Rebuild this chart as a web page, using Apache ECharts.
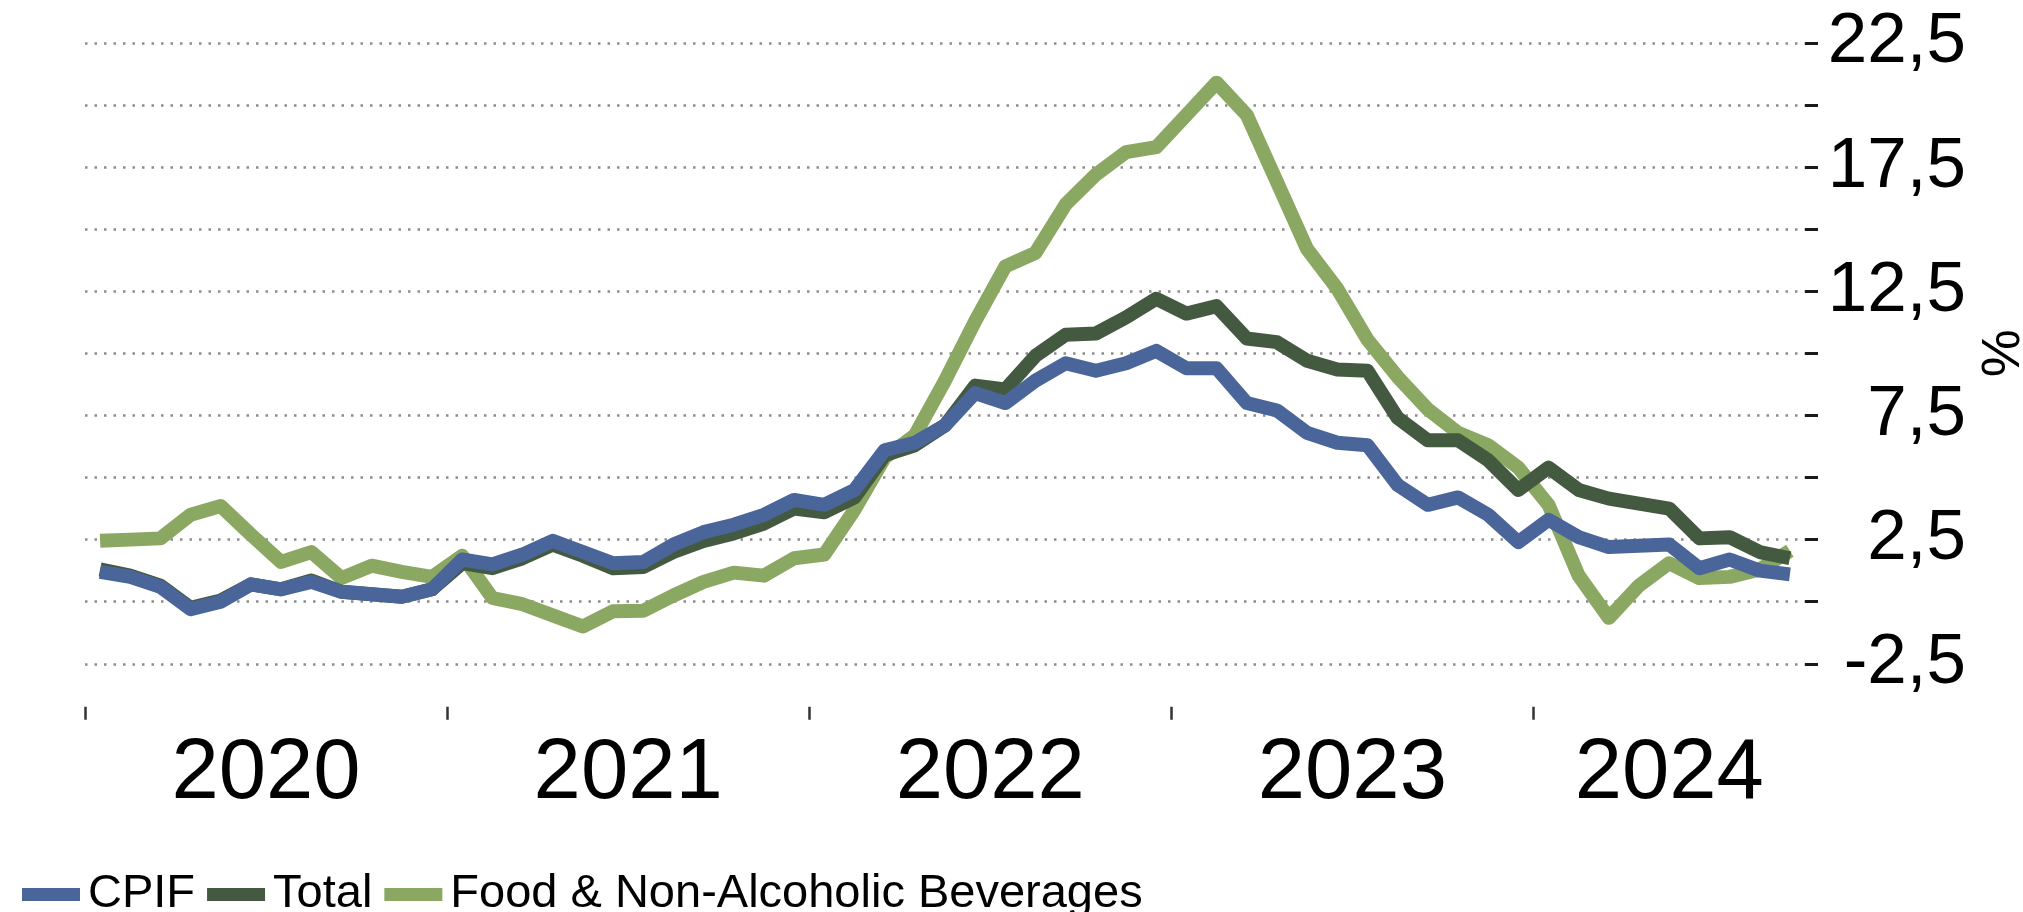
<!DOCTYPE html>
<html>
<head>
<meta charset="utf-8">
<script src="https://cdn.jsdelivr.net/npm/echarts@6/dist/echarts.min.js"></script>
<style>
html,body{margin:0;padding:0;background:#fff;}
#c{width:2023px;height:912px;}
</style>
</head>
<body>
<div id="c"></div>
<script>
const months = [
  '2020-01','2020-02','2020-03','2020-04','2020-05','2020-06','2020-07','2020-08','2020-09','2020-10','2020-11','2020-12',
  '2021-01','2021-02','2021-03','2021-04','2021-05','2021-06','2021-07','2021-08','2021-09','2021-10','2021-11','2021-12',
  '2022-01','2022-02','2022-03','2022-04','2022-05','2022-06','2022-07','2022-08','2022-09','2022-10','2022-11','2022-12',
  '2023-01','2023-02','2023-03','2023-04','2023-05','2023-06','2023-07','2023-08','2023-09','2023-10','2023-11','2023-12',
  '2024-01','2024-02','2024-03','2024-04','2024-05','2024-06','2024-07','2024-08','2024-09'
];
const cpif = [
  1.2, 1.0, 0.6, -0.3, 0.0, 0.7, 0.5, 0.8, 0.4, 0.3, 0.2, 0.5,
  1.7, 1.5, 1.9, 2.45, 2.0, 1.55, 1.6, 2.3, 2.8, 3.1, 3.5, 4.1,
  3.9, 4.5, 6.1, 6.4, 7.1, 8.4, 8.0, 8.9, 9.6, 9.3, 9.6, 10.1,
  9.4, 9.4, 8.0, 7.7, 6.8, 6.4, 6.3, 4.7, 3.9, 4.2, 3.5, 2.4,
  3.3, 2.6, 2.2, 2.25, 2.3, 1.35, 1.7, 1.25, 1.1
];
const total = [
  1.3, 1.05, 0.65, -0.25, 0.05, 0.7, 0.5, 0.85, 0.4, 0.3, 0.2, 0.5,
  1.55, 1.35, 1.75, 2.3, 1.85, 1.35, 1.4, 2.0, 2.45, 2.75, 3.15, 3.75,
  3.6, 4.2, 5.9, 6.3, 7.1, 8.7, 8.55, 9.9, 10.75, 10.8, 11.45, 12.2,
  11.6, 11.9, 10.6, 10.45, 9.7, 9.35, 9.3, 7.4, 6.5, 6.5, 5.7, 4.5,
  5.4, 4.5, 4.15, 3.95, 3.75, 2.55, 2.6, 2.0, 1.75
];
const food = [
  2.45, 2.5, 2.55, 3.5, 3.85, 2.7, 1.6, 2.0, 0.95, 1.45, 1.2, 1.0,
  1.85, 0.15, -0.1, -0.55, -1.0, -0.38, -0.36, 0.25, 0.8, 1.17, 1.05, 1.75,
  1.9, 3.7, 5.8, 6.7, 8.9, 11.3, 13.5, 14.05, 16.0, 17.2, 18.1, 18.3,
  19.6, 20.9, 19.6, 16.9, 14.2, 12.6, 10.55, 9.05, 7.75, 6.8, 6.3, 5.4,
  3.9, 1.05, -0.65, 0.65, 1.55, 0.95, 1.0, 1.3, 2.05
];
const seriesNames = ['CPIF', 'Total', 'Food & Non-Alcoholic Beverages'];
const yearLabels = ['2020', '2021', '2022', '2023', '2024'];
const yTickLabels = ['-2,5', '2,5', '7,5', '12,5', '17,5', '22,5'];

// year spans derived from the month categories
const yearStart = {}, yearEnd = {};
months.forEach(function (m, i) {
  const y = m.slice(0, 4);
  if (!(y in yearStart)) yearStart[y] = i;
  yearEnd[y] = i + 1;
});
const yearTickPos = yearLabels.map(function (y) { return yearStart[y]; });
const yearLabelPos = yearLabels.map(function (y) { return (yearStart[y] + yearEnd[y]) / 2; });

const FONT = '"Liberation Sans", Arial, sans-serif';
const COLORS = { cpif: '#4A6599', total: '#435A40', food: '#8AA862' };

const chart = echarts.init(document.getElementById('c'), null, { renderer: 'canvas' });
chart.setOption({
  animation: false,
  backgroundColor: '#ffffff',
  grid: { left: 85, right: 218, top: 42.9, bottom: 248.2, containLabel: false, outerBoundsMode: 'none' },
  legend: {
    data: seriesNames,
    left: 17,
    top: 866,
    itemWidth: 58,
    itemHeight: 13,
    itemGap: 12,
    icon: 'rect',
    textStyle: { fontSize: 47, fontFamily: FONT, color: '#000', padding: [0, 0, 0, 3] }
  },
  xAxis: [
    { type: 'category', data: months, boundaryGap: true, show: false, position: 'bottom',
      axisLine: { onZero: false } },
    {
      type: 'value', min: 0, max: months.length, position: 'bottom', offset: 43,
      axisLine: { show: false, onZero: false },
      splitLine: { show: false },
      axisTick: { show: true, length: 13, customValues: yearTickPos, lineStyle: { color: '#333', width: 2.5 } },
      axisLabel: {
        show: true, customValues: yearLabelPos, margin: 68, verticalAlign: 'middle',
        fontSize: 85, fontFamily: FONT, color: '#000',
        formatter: function (v) {
          const k = yearLabelPos.indexOf(v);
          return k >= 0 ? yearLabels[k] : '';
        }
      }
    }
  ],
  yAxis: {
    type: 'value', position: 'right', min: -2.5, max: 22.5, interval: 2.5,
    axisLine: { show: false, onZero: false },
    axisTick: { show: true, inside: false, length: 13, lineStyle: { color: '#1a1a1a', width: 3 } },
    splitLine: { show: true, lineStyle: { color: '#8c8c8c', width: 2.5, type: [2.5, 7] } },
    axisLabel: {
      show: true, margin: 161, align: 'right', fontSize: 71, fontFamily: FONT, color: '#000',
      showMinLabel: true, showMaxLabel: true,
      formatter: function (v) {
        const s = v.toFixed(1).replace('.', ',');
        return yTickLabels.indexOf(s) >= 0 ? s : '';
      }
    },
    name: '%', nameLocation: 'middle', nameGap: 170, nameRotate: 90,
    nameTextStyle: { fontSize: 54, fontFamily: FONT, color: '#000' }
  },
  series: [
    {
      name: seriesNames[2], type: 'line', data: food, xAxisIndex: 0, showSymbol: false, symbol: 'none',
      lineStyle: { width: 14, color: COLORS.food, join: 'round', cap: 'butt' }, itemStyle: { color: COLORS.food }
    },
    {
      name: seriesNames[1], type: 'line', data: total, xAxisIndex: 0, showSymbol: false, symbol: 'none',
      lineStyle: { width: 14, color: COLORS.total, join: 'round', cap: 'butt' }, itemStyle: { color: COLORS.total }
    },
    {
      name: seriesNames[0], type: 'line', data: cpif, xAxisIndex: 0, showSymbol: false, symbol: 'none',
      lineStyle: { width: 14, color: COLORS.cpif, join: 'round', cap: 'butt' }, itemStyle: { color: COLORS.cpif }
    }
  ]
});
</script>
</body>
</html>
